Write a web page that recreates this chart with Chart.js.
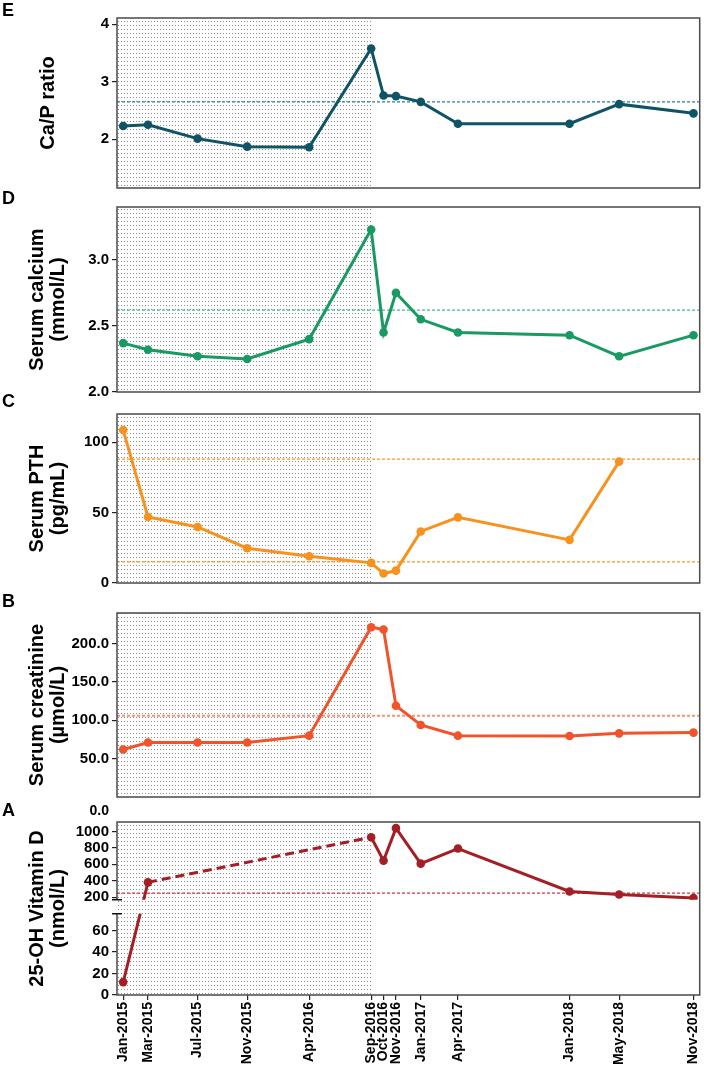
<!DOCTYPE html>
<html>
<head>
<meta charset="utf-8">
<title>Biochemistry over time</title>
<script src="https://cdn.jsdelivr.net/npm/chart.js@4.4.1/dist/chart.umd.min.js"></script>
<style>
  body { margin: 0; background: #fff; }
  #figure { position: relative; width: 704px; height: 1066px; overflow: hidden; }
  #figure canvas { position: absolute; left: 0; }
</style>
</head>
<body>
<div id="figure">
  <canvas id="panelE" width="704" height="200" style="top:0px"></canvas>
  <canvas id="panelD" width="704" height="214" style="top:188px"></canvas>
  <canvas id="panelC" width="704" height="205" style="top:388px"></canvas>
  <canvas id="panelB" width="704" height="222" style="top:588px"></canvas>
  <canvas id="panelA" width="704" height="266" style="top:800px"></canvas>
</div>
<script>
const dateLabels = ['Jan-2015', 'Mar-2015', 'Jul-2015', 'Nov-2015', 'Apr-2016', 'Sep-2016', 'Oct-2016',
  'Nov-2016', 'Jan-2017', 'Apr-2017', 'Jan-2018', 'May-2018', 'Nov-2018'];
// months counted from Jan-2015
const monthIndex = [0, 2, 6, 10, 15, 20, 21, 22, 24, 27, 36, 40, 46];
const shadedUntil = 20;

const caPRatio = [2.23, 2.25, 2.01, 1.87, 1.86, 3.58, 2.76, 2.75, 2.65, 2.27, 2.27, 2.61, 2.45];
const caPRef = [2.65];
const caPTicks = [2, 3, 4];

const serumCalcium = [2.37, 2.32, 2.27, 2.25, 2.40, 3.23, 2.45, 2.75, 2.55, 2.45, 2.43, 2.27, 2.43];
const calciumRef = [2.62];
const calciumTicks = [2.0, 2.5, 3.0];

const serumPTH = [108.6, 46.9, 39.8, 24.7, 19.0, 14.3, 6.7, 8.8, 36.6, 46.6, 30.6, 86.2, null];
const pthRef = [88, 15];
const pthTicks = [0, 50, 100];

const serumCreatinine = [62, 71, 71, 71, 80, 221.5, 218.5, 119, 94, 80, 79.5, 83, 84];
const creatinineRef = [106];
const creatinineTicks = [50, 100, 150, 200];

const vitaminD = [12, 380, null, null, null, 930, 645, 1040, 608, 792, 269, 232, 190];
const vitaminDRef = [250];
const vitaminDTicks = [0, 20, 40, 60, 200, 400, 600, 800, 1000];
// broken axis: value range of each piece and the share of plot height it gets
const vitDSegments = [
  {min: 0, max: 75.6, from: 0, to: 0.469},
  {min: 167, max: 1115, from: 0.55, to: 1}
];

Chart.defaults.font.family = "'Liberation Sans', Arial, Helvetica, sans-serif";
Chart.defaults.font.weight = 'bold';
Chart.defaults.color = '#000';

class BrokenLinearScale extends Chart.LinearScale {
  static id = 'brokenLinear';
  getPixelForValue(value) {
    if (value === null || value === undefined) return NaN;
    const lo = vitDSegments[0], hi = vitDSegments[1];
    const seg = value <= (lo.max + hi.min) / 2 ? lo : hi;
    const frac = seg.from + (value - seg.min) / (seg.max - seg.min) * (seg.to - seg.from);
    return this.bottom - frac * (this.bottom - this.top);
  }
  getValueForPixel(pixel) {
    const frac = (this.bottom - pixel) / (this.bottom - this.top);
    const lo = vitDSegments[0], hi = vitDSegments[1];
    const seg = frac <= (lo.to + hi.from) / 2 ? lo : hi;
    return seg.min + (frac - seg.from) / (seg.to - seg.from) * (seg.max - seg.min);
  }
}
Chart.register(BrokenLinearScale);

function gapOf(scale) {
  const h = scale.bottom - scale.top;
  return {top: scale.bottom - vitDSegments[1].from * h, bottom: scale.bottom - vitDSegments[0].to * h};
}

// dotted shading for the first period
const dots = document.createElement('canvas');
dots.width = 3;
dots.height = 4;
const dg = dots.getContext('2d');
dg.fillStyle = '#8e8e8e';
dg.fillRect(1, 1, 1, 1);

const panelDecor = {
  id: 'panelDecor',
  beforeDatasetsDraw(chart, args, opts) {
    const {ctx, chartArea: a, scales} = chart;
    const xEnd = scales.x.getPixelForValue(shadedUntil) + 1;
    ctx.save();
    ctx.fillStyle = ctx.createPattern(dots, 'repeat');
    ctx.fillRect(a.left, a.top, xEnd - a.left, a.bottom - a.top);
    ctx.restore();
    ctx.save();
    if (opts.broken) {
      const gap = gapOf(scales.y);
      ctx.beginPath();
      ctx.rect(0, 0, chart.width, gap.top);
      ctx.rect(0, gap.bottom, chart.width, chart.height - gap.bottom);
      ctx.clip();
    }
  },
  afterDatasetsDraw(chart, args, opts) {
    const {ctx, chartArea: a, scales} = chart;
    ctx.restore();
    ctx.save();
    ctx.strokeStyle = '#4a4a4a';
    ctx.lineWidth = 1.5;
    ctx.beginPath();
    if (opts.broken) {
      const gap = gapOf(scales.y);
      ctx.moveTo(a.left, gap.top);
      ctx.lineTo(a.left, a.top);
      ctx.lineTo(a.right, a.top);
      ctx.lineTo(a.right, a.bottom);
      ctx.lineTo(a.left, a.bottom);
      ctx.lineTo(a.left, gap.bottom);
      ctx.stroke();
      ctx.strokeStyle = '#111';
      ctx.beginPath();
      ctx.moveTo(a.left - 5, gap.top);
      ctx.lineTo(a.left + 5, gap.top);
      ctx.moveTo(a.left - 5, gap.bottom);
      ctx.lineTo(a.left + 5, gap.bottom);
    } else {
      ctx.rect(a.left, a.top, a.right - a.left, a.bottom - a.top);
    }
    ctx.stroke();
    ctx.restore();
  },
  afterDraw(chart, args, opts) {
    const {ctx, chartArea: a} = chart;
    ctx.save();
    ctx.fillStyle = '#000';
    ctx.font = "bold 18px 'Liberation Sans', Arial, sans-serif";
    ctx.textBaseline = 'alphabetic';
    ctx.fillText(opts.letter, 2, opts.letterY);
    if (opts.extraLabel) {
      ctx.font = "bold 14px 'Liberation Sans', Arial, sans-serif";
      ctx.textAlign = 'right';
      ctx.textBaseline = 'middle';
      ctx.fillText(opts.extraLabel, a.left - 8, a.top - 11);
    }
    ctx.restore();
  }
};

function makePanel(p) {
  const ctx = document.getElementById(p.id);
  const missing = i => p.values[i] === null || p.values[i] === undefined;

  const datasets = [{
    data: monthIndex.map((m, i) => ({x: m, y: p.values[i]})),
    borderColor: p.color,
    backgroundColor: p.color,
    borderWidth: 3,
    pointRadius: 4.3,
    pointBorderWidth: 0,
    spanGaps: true,
    segment: {
      // dashed where readings are missing in between
      borderDash: c => (missing(c.p0DataIndex) || missing(c.p1DataIndex - 1) ? [9, 5] : undefined)
    }
  }];
  p.refs.forEach(r => {
    datasets.push({
      data: [{x: -0.5, y: r}, {x: 46.5, y: r}],
      borderColor: p.refColor,
      borderWidth: p.refWidth || 1.2,
      borderDash: [3, 2],
      pointRadius: 0
    });
  });

  const xAxis = {
    type: 'linear',
    min: -0.5,
    max: 46.5,
    display: !!p.showX,
    afterBuildTicks: s => { s.ticks = monthIndex.map(v => ({value: v})); },
    ticks: {
      autoSkip: false,
      minRotation: 90,
      maxRotation: 90,
      padding: 2,
      font: {size: 14, weight: 'bold'},
      callback: v => dateLabels[monthIndex.indexOf(v)]
    },
    grid: {drawOnChartArea: false, drawTicks: true, tickLength: 5, color: '#222', lineWidth: 1.2},
    border: {display: false}
  };
  if (p.showX) {
    xAxis.afterFit = s => { s.height = 71; s.paddingLeft = 0; s.paddingRight = 0; };
  }

  const config = {
    type: 'line',
    data: {datasets: datasets},
    options: {
      responsive: false,
      animation: false,
      events: [],
      layout: {padding: {left: 0, right: 2, top: p.padTop, bottom: p.padBottom}},
      scales: {
        x: xAxis,
        y: {
          type: p.yType || 'linear',
          min: p.min,
          max: p.max,
          afterFit: s => { s.width = 117; s.paddingTop = 0; s.paddingBottom = 0; },
          afterBuildTicks: s => { s.ticks = p.ticks.map(v => ({value: v})); },
          ticks: {
            padding: 3,
            font: {size: 15, weight: 'bold'},
            callback: v => (p.decimals ? v.toFixed(p.decimals) : String(v))
          },
          grid: {drawOnChartArea: false, drawTicks: true, tickLength: 5, color: '#222', lineWidth: 1.2},
          border: {display: false},
          title: {
            display: true,
            text: p.title,
            font: {size: 20, weight: 'bold', lineHeight: 1.05},
            padding: {top: p.titlePad, bottom: 0}
          }
        }
      },
      plugins: {
        legend: {display: false},
        tooltip: {enabled: false},
        panelDecor: {letter: p.letter, letterY: p.letterY, broken: !!p.broken, extraLabel: p.extraLabel}
      }
    },
    plugins: [panelDecor]
  };
  return new Chart(ctx, config);
}

makePanel({
  id: 'panelE', letter: 'E', letterY: 16, padTop: 18, padBottom: 12,
  values: caPRatio, refs: caPRef, ticks: caPTicks, min: 1.15, max: 4.11,
  color: '#0e5366', refColor: '#2a7f93', title: 'Ca/P ratio', titlePad: 38
});
makePanel({
  id: 'panelD', letter: 'D', letterY: 16, padTop: 19, padBottom: 10,
  values: serumCalcium, refs: calciumRef, ticks: calciumTicks, min: 2.0, max: 3.4, decimals: 1,
  color: '#189a62', refColor: '#3cc08a', title: ['Serum calcium', '(mmol/L)'], titlePad: 27
});
makePanel({
  id: 'panelC', letter: 'C', letterY: 19, padTop: 26, padBottom: 10,
  values: serumPTH, refs: pthRef, ticks: pthTicks, min: 0, max: 120,
  color: '#f7921e', refColor: '#f7982e', title: ['Serum PTH', '(pg/mL)'], titlePad: 27
});
makePanel({
  id: 'panelB', letter: 'B', letterY: 19, padTop: 25, padBottom: 13,
  values: serumCreatinine, refs: creatinineRef, ticks: creatinineTicks, min: 0, max: 240, decimals: 1,
  color: '#f1532a', refColor: '#f79178', refWidth: 2, title: ['Serum creatinine', '(\u00b5mol/L)'], titlePad: 27
});
makePanel({
  id: 'panelA', letter: 'A', letterY: 16, padTop: 22, padBottom: 0, showX: true,
  yType: 'brokenLinear', broken: true, extraLabel: '0.0',
  values: vitaminD, refs: vitaminDRef, ticks: vitaminDTicks, min: 0, max: 1115,
  color: '#a41e25', refColor: '#d0393e', title: ['25-OH Vitamin D', '(nmol/L)'], titlePad: 27
});
</script>
</body>
</html>
